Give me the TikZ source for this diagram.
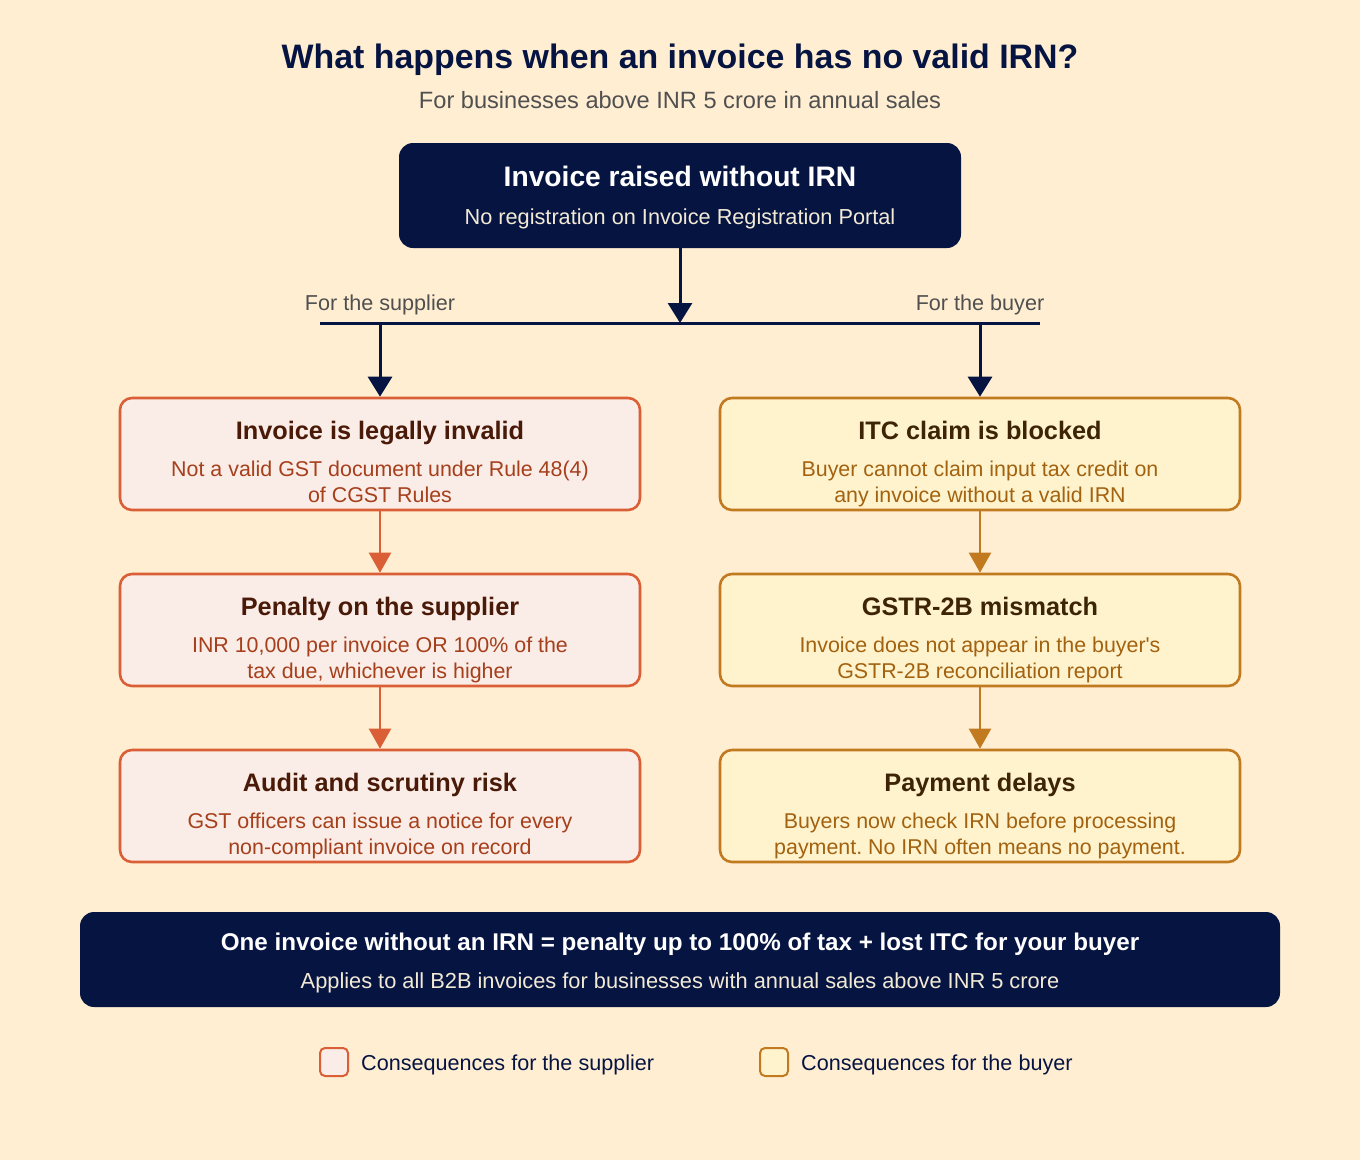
\documentclass[tikz,border=0pt]{standalone}
\usepackage{fontspec}
\setmainfont{Liberation Sans}[Ligatures=TeXOff]
\usetikzlibrary{arrows.meta}
\frenchspacing
\definecolor{bg}{HTML}{FFEED2}
\definecolor{navy}{HTML}{061442}
\definecolor{grayt}{HTML}{505050}
\definecolor{supB}{HTML}{DA5E36}
\definecolor{supF}{HTML}{FAECE6}
\definecolor{supT}{HTML}{4A1A08}
\definecolor{supS}{HTML}{A63F1C}
\definecolor{buyB}{HTML}{C27A20}
\definecolor{buyF}{HTML}{FFF3CE}
\definecolor{buyT}{HTML}{3D2406}
\definecolor{buyS}{HTML}{A2620F}
\definecolor{lighttxt}{HTML}{F3EAD6}
\newcommand{\fs}[1]{\fontsize{#1}{#1}\selectfont}
\tikzset{
  sbox/.style={draw=supB, fill=supF, line width=2.6pt, rounded corners=12pt, minimum width=520pt, minimum height=112pt, inner sep=0pt},
  bbox/.style={draw=buyB, fill=buyF, line width=2.6pt, rounded corners=12pt, minimum width=520pt, minimum height=112pt, inner sep=0pt},
  darkbox/.style={fill=navy, rounded corners=14pt, inner sep=0pt},
  ttl/.style={anchor=base, font=\bfseries\fs{25.3}, inner sep=0pt},
  sub/.style={anchor=base, font=\fs{21.4}, inner sep=0pt},
  navyarrow/.style={draw=navy, line width=3pt, -{Triangle[length=20pt,width=24pt]}},
  suparrow/.style={draw=supB, line width=2.2pt, -{Triangle[length=20pt,width=22pt]}},
  buyarrow/.style={draw=buyB, line width=2.2pt, -{Triangle[length=20pt,width=22pt]}},
  legbox/.style={line width=2pt, rounded corners=5pt, minimum width=28pt, minimum height=28pt, inner sep=0pt},
}
\begin{document}
\begin{tikzpicture}[x=1pt,y=-1pt]
\fill[bg] (0,0) rectangle (1360,1160);
\useasboundingbox (0,0) rectangle (1360,1160);

% title
\node[anchor=base, inner sep=0pt, font=\bfseries\fs{33.9}, text=navy] (title) at (680,68.5) {What happens when an invoice has no valid IRN?};
\node[anchor=base, inner sep=0pt, font=\fs{23.6}, text=grayt] (subtitle) at (680,108) {For businesses above INR 5 crore in annual sales};

% top box
\node[darkbox, minimum width=562pt, minimum height=105pt] (top) at (680,195.5) {};
\node[anchor=base, inner sep=0pt, font=\bfseries\fs{28.2}, text=white] (topt) at (680,186.5) {Invoice raised without IRN};
\node[anchor=base, inner sep=0pt, font=\fs{21.7}, text=lighttxt] (tops) at (680,224.5) {No registration on Invoice Registration Portal};

% branch
\coordinate (hub) at (680,323);
\coordinate (bl) at (320,323);
\coordinate (br) at (1040,323);
\coordinate (sl) at (380,323);
\coordinate (sr) at (980,323);
\draw[navyarrow] (top.south) -- (hub);
\draw[navy, line width=3pt] (bl) -- (br);
\node[anchor=base, inner sep=0pt, font=\fs{21.6}, text=grayt] (lsup) at (380,310) {For the supplier};
\node[anchor=base, inner sep=0pt, font=\fs{21.6}, text=grayt] (lbuy) at (980,310) {For the buyer};

% supplier column
\node[sbox] (s1) at (380,454) {};
\node[sbox] (s2) at (380,630) {};
\node[sbox] (s3) at (380,806) {};
\node[ttl, text=supT] (s1t) at (380,439.5) {Invoice is legally invalid};
\node[sub, text=supS] (s1a) at (380,476.5) {Not a valid GST document under Rule 48(4)};
\node[sub, text=supS] (s1b) at (380,502.5) {of CGST Rules};
\node[ttl, text=supT] (s2t) at (380,615.5) {Penalty on the supplier};
\node[sub, text=supS] (s2a) at (380,652.5) {INR 10,000 per invoice OR 100\% of the};
\node[sub, text=supS] (s2b) at (380,678.5) {tax due, whichever is higher};
\node[ttl, text=supT] (s3t) at (380,791.5) {Audit and scrutiny risk};
\node[sub, text=supS] (s3a) at (380,828.5) {GST officers can issue a notice for every};
\node[sub, text=supS] (s3b) at (380,854.5) {non-compliant invoice on record};

% buyer column
\node[bbox] (r1) at (980,454) {};
\node[bbox] (r2) at (980,630) {};
\node[bbox] (r3) at (980,806) {};
\node[ttl, text=buyT] (r1t) at (980,439.5) {ITC claim is blocked};
\node[sub, text=buyS] (r1a) at (980,476.5) {Buyer cannot claim input tax credit on};
\node[sub, text=buyS] (r1b) at (980,502.5) {any invoice without a valid IRN};
\node[ttl, text=buyT] (r2t) at (980,615.5) {GSTR-2B mismatch};
\node[sub, text=buyS] (r2a) at (980,652.5) {Invoice does not appear in the buyer's};
\node[sub, text=buyS] (r2b) at (980,678.5) {GSTR-2B reconciliation report};
\node[ttl, text=buyT] (r3t) at (980,791.5) {Payment delays};
\node[sub, text=buyS] (r3a) at (980,828.5) {Buyers now check IRN before processing};
\node[sub, text=buyS] (r3b) at (980,854.5) {payment. No IRN often means no payment.};

% connectors
\draw[navyarrow] (sl) -- (s1.north);
\draw[navyarrow] (sr) -- (r1.north);
\draw[suparrow] (s1.south) -- (s2.north);
\draw[suparrow] (s2.south) -- (s3.north);
\draw[buyarrow] (r1.south) -- (r2.north);
\draw[buyarrow] (r2.south) -- (r3.north);

% banner
\node[darkbox, minimum width=1200pt, minimum height=95pt] (ban) at (680,959.5) {};
\node[anchor=base, inner sep=0pt, font=\bfseries\fs{24.2}, text=white] (bant) at (680,950.5) {One invoice without an IRN = penalty up to 100\% of tax + lost ITC for your buyer};
\node[anchor=base, inner sep=0pt, font=\fs{21.8}, text=lighttxt] (bans) at (680,988) {Applies to all B2B invoices for businesses with annual sales above INR 5 crore};

% legend
\node[legbox, draw=supB, fill=supF] (lg1) at (334,1062) {};
\node[anchor=base west, inner sep=0pt, font=\fs{21.6}, text=navy] (lg1t) at (361,1070) {Consequences for the supplier};
\node[legbox, draw=buyB, fill=buyF] (lg2) at (774,1062) {};
\node[anchor=base west, inner sep=0pt, font=\fs{21.6}, text=navy] (lg2t) at (801,1070) {Consequences for the buyer};
\end{tikzpicture}
\end{document}
